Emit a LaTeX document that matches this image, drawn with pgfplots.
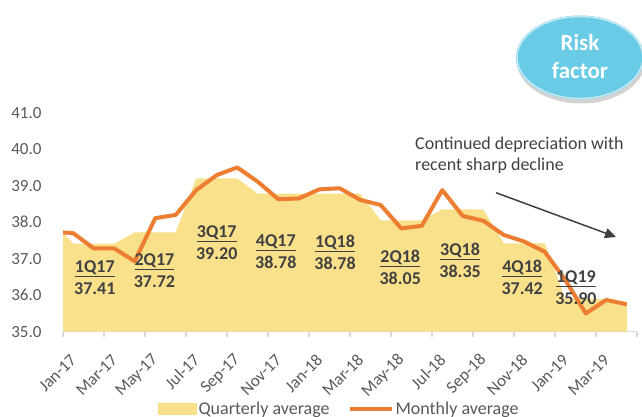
\documentclass[border=0pt]{standalone}
\usepackage{fontspec}
\setmainfont{Carlito}
\usepackage{pgfplots}
\pgfplotsset{compat=1.18}
\usetikzlibrary{arrows.meta,shadows}

\definecolor{areayellow}{HTML}{F9E08A}
\definecolor{lineorange}{HTML}{ED7D31}
\definecolor{txtgray}{HTML}{595959}
\definecolor{darkgray}{HTML}{404040}
\definecolor{axisgray}{HTML}{D9D9D9}
\definecolor{bubble}{HTML}{6ACBE7}

% x = month index, Jan-17 centred at 0.5; x=0 is the left edge of the axis
\pgfplotstableread{
x     quarterly  monthly
0     37.72      37.72
0.5   37.41      37.70
1.5   37.41      37.28
2.5   37.41      37.28
3.5   37.72      36.93
4.5   37.72      38.11
5.5   37.72      38.20
6.5   39.20      38.88
7.5   39.20      39.29
8.5   39.20      39.50
9.5   38.78      39.11
10.5  38.78      38.63
11.5  38.78      38.65
12.5  38.78      38.90
13.5  38.78      38.93
14.5  38.78      38.61
15.5  38.05      38.47
16.5  38.05      37.83
17.5  38.05      37.90
18.5  38.35      38.88
19.5  38.35      38.17
20.5  38.35      38.04
21.5  37.42      37.65
22.5  37.42      37.47
23.5  37.42      37.19
24.5  35.90      36.42
25.5  35.90      35.50
26.5  35.90      35.87
27.5  35.78      35.75
}\ratedata

\newcommand{\bigfont}{\fontsize{18bp}{21.6bp}\selectfont}

\begin{document}
\begin{tikzpicture}[x=1bp,y=1bp,
    qlab/.style={font=\fontsize{18bp}{22bp}\selectfont\bfseries, text=darkgray, align=center, inner sep=0pt}]
\useasboundingbox (0,0) rectangle (642,416);

\begin{axis}[
    at={(63bp,84.3bp)}, anchor=south west,
    width=574bp, height=219bp, scale only axis,
    xmin=0, xmax=28, ymin=35, ymax=41,
    axis x line=bottom, axis y line=left,
    x axis line style={-, draw=axisgray, line width=1.2bp},
    y axis line style={draw=none},
    xtick={0,2,...,28},
    xticklabels={Jan-17,Mar-17,May-17,Jul-17,Sep-17,Nov-17,Jan-18,Mar-18,May-18,Jul-18,Sep-18,Nov-18,Jan-19,Mar-19,{}},
    ytick={35,36,...,41},
    xtick style={draw=axisgray, line width=1.2bp},
    ytick style={draw=none},
    tick align=outside,
    major tick length=5bp,
    xticklabel style={font=\fontsize{17bp}{20bp}\selectfont, text=txtgray, xshift=13bp, yshift=-18bp, rotate=45, anchor=east},
    yticklabel style={font=\fontsize{17bp}{20bp}\selectfont, text=txtgray, xshift=-13bp,
        /pgf/number format/.cd, fixed, fixed zerofill, precision=1, assume math mode=true},
    clip mode=individual,
    legend style={at={(0.481,-0.353)}, anchor=center, draw=none, fill=none,
        font=\bigfont, text=txtgray, legend columns=2,
        /tikz/every even column/.append style={column sep=16bp}},
    legend cell align=left,
]
\addplot[fill=areayellow, draw=none,
    legend image code/.code={\fill[areayellow] (0bp,-6bp) rectangle (39bp,6bp);}]
    table[x=x, y=quarterly] {\ratedata} \closedcycle;
\addlegendentry{Quarterly average}
\addplot[lineorange, line width=4bp, line join=round,
    legend image code/.code={\draw[lineorange, line width=4bp] (0bp,0bp) -- (42bp,0bp);}]
    table[x=x, y=monthly] {\ratedata};
\addlegendentry{Monthly average}

\node[qlab] at (axis cs:1.55,36.47)  {\underline{1Q17}\\37.41};
\node[qlab] at (axis cs:4.46,36.68)  {\underline{2Q17}\\37.72};
\node[qlab] at (axis cs:7.50,37.45)  {\underline{3Q17}\\39.20};
\node[qlab] at (axis cs:10.38,37.19) {\underline{4Q17}\\38.78};
\node[qlab] at (axis cs:13.27,37.17) {\underline{1Q18}\\38.78};
\node[qlab] at (axis cs:16.45,36.77) {\underline{2Q18}\\38.05};
\node[qlab] at (axis cs:19.37,36.96) {\underline{3Q18}\\38.35};
\node[qlab] at (axis cs:22.40,36.50) {\underline{4Q18}\\37.42};
\node[qlab] at (axis cs:25.02,36.20) {\underline{1Q19}\\35.90};
\end{axis}

% annotation and arrow
\node[anchor=north west, inner sep=0pt, align=left, font=\bigfont, text=darkgray]
    at (415,279.5) {Continued depreciation with\\recent sharp decline};
\draw[darkgray, line width=1.5bp, -{Triangle[length=11bp,width=10bp]}] (496,223.3) -- (616,179);

% risk factor bubble
\fill[bubble, drop shadow={shadow xshift=1bp, shadow yshift=-4bp, opacity=0.35}]
    (580,358.5) ellipse [x radius=64bp, y radius=42bp];
\draw[white!60!bubble, line width=1.5bp] (580,358.5) ellipse [x radius=63bp, y radius=41bp];
\node[align=center, text=white, font=\fontsize{23bp}{28bp}\selectfont\bfseries, inner sep=0pt]
    at (580,359) {Risk\\factor};
\end{tikzpicture}
\end{document}
